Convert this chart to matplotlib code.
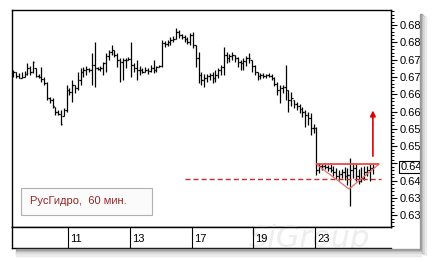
import matplotlib
matplotlib.use("Agg")
import matplotlib.pyplot as plt
from matplotlib.patches import Rectangle
from matplotlib.ticker import FixedLocator, MultipleLocator
import matplotlib.transforms as mtransforms

plt.rcParams['font.family'] = ['Liberation Sans', 'DejaVu Sans']

# ---------------- data (hourly OHLC) ----------------
high = [0.6720, 0.6714, 0.6711, 0.6714, 0.6717, 0.6740, 0.6732, 0.6746, 0.6726, 0.6708,
        0.6729, 0.6700, 0.6685, 0.6642, 0.6639, 0.6613, 0.6604, 0.6604, 0.6610, 0.6677,
        0.6668, 0.6691, 0.6677, 0.6714, 0.6726, 0.6729, 0.6732, 0.6726, 0.6769, 0.6801,
        0.6729, 0.6732, 0.6743, 0.6769, 0.6778, 0.6792, 0.6778, 0.6769, 0.6755, 0.6755,
        0.6755, 0.6758, 0.6801, 0.6740, 0.6749, 0.6732, 0.6726, 0.6729, 0.6726, 0.6734,
        0.6749, 0.6732, 0.6734, 0.6807, 0.6804, 0.6807, 0.6815, 0.6818, 0.6841, 0.6836,
        0.6824, 0.6821, 0.6815, 0.6827, 0.6830, 0.6792, 0.6772, 0.6714, 0.6708, 0.6708,
        0.6711, 0.6714, 0.6720, 0.6726, 0.6734, 0.6786, 0.6772, 0.6766, 0.6772, 0.6763,
        0.6758, 0.6749, 0.6755, 0.6760, 0.6769, 0.6749, 0.6734, 0.6714, 0.6711, 0.6711,
        0.6708, 0.6711, 0.6708, 0.6700, 0.6685, 0.6677, 0.6677, 0.6734, 0.6662, 0.6656,
        0.6633, 0.6628, 0.6622, 0.6613, 0.6604, 0.6599, 0.6596, 0.6564, 0.6555, 0.6451,
        0.6448, 0.6448, 0.6445, 0.6448, 0.6443, 0.6437, 0.6431, 0.6434, 0.6440, 0.6437,
        0.6466, 0.6451, 0.6448, 0.6434, 0.6440, 0.6443, 0.6443, 0.6448, 0.6448]
low = [0.6700, 0.6697, 0.6697, 0.6697, 0.6700, 0.6706, 0.6706, 0.6711, 0.6700, 0.6697,
       0.6685, 0.6677, 0.6633, 0.6625, 0.6610, 0.6590, 0.6590, 0.6561, 0.6587, 0.6599,
       0.6648, 0.6628, 0.6654, 0.6662, 0.6677, 0.6700, 0.6706, 0.6714, 0.6677, 0.6671,
       0.6720, 0.6717, 0.6706, 0.6714, 0.6749, 0.6763, 0.6758, 0.6729, 0.6685, 0.6691,
       0.6726, 0.6749, 0.6700, 0.6714, 0.6691, 0.6706, 0.6711, 0.6714, 0.6708, 0.6714,
       0.6711, 0.6714, 0.6729, 0.6729, 0.6786, 0.6789, 0.6792, 0.6801, 0.6810, 0.6812,
       0.6810, 0.6801, 0.6795, 0.6792, 0.6784, 0.6729, 0.6682, 0.6677, 0.6671, 0.6685,
       0.6691, 0.6682, 0.6685, 0.6697, 0.6706, 0.6706, 0.6740, 0.6743, 0.6749, 0.6743,
       0.6729, 0.6720, 0.6720, 0.6732, 0.6740, 0.6714, 0.6706, 0.6691, 0.6694, 0.6697,
       0.6697, 0.6700, 0.6691, 0.6674, 0.6648, 0.6625, 0.6654, 0.6633, 0.6599, 0.6616,
       0.6610, 0.6604, 0.6596, 0.6584, 0.6555, 0.6561, 0.6532, 0.6538, 0.6417, 0.6422,
       0.6431, 0.6434, 0.6428, 0.6425, 0.6414, 0.6405, 0.6402, 0.6408, 0.6402, 0.6388,
       0.6327, 0.6408, 0.6399, 0.6391, 0.6396, 0.6402, 0.6414, 0.6399, 0.6419]
open_ = [0.6717, 0.6714, 0.6703, 0.6697, 0.6700, 0.6708, 0.6726, 0.6714, 0.6726, 0.6703,
         0.6700, 0.6694, 0.6682, 0.6639, 0.6633, 0.6613, 0.6599, 0.6593, 0.6587, 0.6604,
         0.6662, 0.6656, 0.6677, 0.6668, 0.6691, 0.6714, 0.6720, 0.6723, 0.6720, 0.6734,
         0.6726, 0.6723, 0.6726, 0.6740, 0.6760, 0.6772, 0.6778, 0.6763, 0.6749, 0.6743,
         0.6749, 0.6749, 0.6752, 0.6734, 0.6726, 0.6720, 0.6720, 0.6714, 0.6720, 0.6717,
         0.6726, 0.6720, 0.6729, 0.6732, 0.6798, 0.6795, 0.6801, 0.6807, 0.6810, 0.6830,
         0.6821, 0.6815, 0.6810, 0.6801, 0.6821, 0.6792, 0.6755, 0.6706, 0.6691, 0.6697,
         0.6703, 0.6706, 0.6697, 0.6706, 0.6720, 0.6729, 0.6763, 0.6755, 0.6760, 0.6763,
         0.6755, 0.6743, 0.6740, 0.6746, 0.6755, 0.6749, 0.6732, 0.6714, 0.6703, 0.6706,
         0.6703, 0.6706, 0.6703, 0.6697, 0.6680, 0.6662, 0.6668, 0.6671, 0.6662, 0.6633,
         0.6633, 0.6622, 0.6616, 0.6607, 0.6599, 0.6590, 0.6581, 0.6552, 0.6552, 0.6431,
         0.6443, 0.6443, 0.6440, 0.6437, 0.6431, 0.6425, 0.6414, 0.6419, 0.6425, 0.6414,
         0.6417, 0.6431, 0.6437, 0.6414, 0.6399, 0.6408, 0.6425, 0.6431, 0.6437]
close = [0.6714, 0.6703, 0.6697, 0.6700, 0.6708, 0.6726, 0.6714, 0.6743, 0.6703, 0.6700,
         0.6694, 0.6682, 0.6639, 0.6633, 0.6616, 0.6599, 0.6593, 0.6564, 0.6604, 0.6662,
         0.6656, 0.6677, 0.6668, 0.6691, 0.6714, 0.6720, 0.6723, 0.6720, 0.6734, 0.6726,
         0.6723, 0.6726, 0.6740, 0.6760, 0.6772, 0.6778, 0.6763, 0.6749, 0.6743, 0.6749,
         0.6749, 0.6752, 0.6734, 0.6726, 0.6720, 0.6720, 0.6714, 0.6720, 0.6717, 0.6726,
         0.6720, 0.6729, 0.6732, 0.6798, 0.6795, 0.6801, 0.6807, 0.6810, 0.6830, 0.6821,
         0.6815, 0.6810, 0.6801, 0.6821, 0.6792, 0.6755, 0.6706, 0.6691, 0.6697, 0.6703,
         0.6706, 0.6697, 0.6706, 0.6720, 0.6729, 0.6763, 0.6755, 0.6760, 0.6763, 0.6755,
         0.6743, 0.6740, 0.6746, 0.6755, 0.6755, 0.6732, 0.6714, 0.6703, 0.6706, 0.6703,
         0.6706, 0.6703, 0.6697, 0.6680, 0.6662, 0.6668, 0.6671, 0.6662, 0.6633, 0.6639,
         0.6622, 0.6616, 0.6607, 0.6599, 0.6590, 0.6581, 0.6552, 0.6552, 0.6431, 0.6443,
         0.6443, 0.6440, 0.6437, 0.6431, 0.6425, 0.6414, 0.6419, 0.6425, 0.6414, 0.6417,
         0.6431, 0.6437, 0.6414, 0.6399, 0.6408, 0.6425, 0.6431, 0.6437, 0.6440]

day_labels = ['11', '13', '17', '19', '23']
day_start_bar = [20, 42, 64, 86, 108]

ytick_values = [0.685, 0.680, 0.675, 0.670, 0.665, 0.660, 0.655, 0.650, 0.645, 0.640, 0.635, 0.630]
ytick_labels = ['0.68', '0.68', '0.67', '0.67', '0.66', '0.66', '0.65', '0.65', '', '0.64', '0.63', '0.63']
last_price_label = '0.64'
last_price = 0.6440

neck_price = 0.6448
neck_bars = [107.9, 130.3]
support_price = 0.6405
support_bars = [61.2, 131.0]
apex_bar, apex_price = 119.6, 0.6376
arrow_bar, arrow_from, arrow_to = 128.1, 0.6471, 0.6603

legend_text = 'РусГидро,  60 мин.'
watermark = 'SiGroup'

# ---------------- figure ----------------
W, H = 432, 262
fig = plt.figure(figsize=(W / 100, H / 100), dpi=100)
fig.patch.set_facecolor('white')

# shadow of the chart panel
for k, col in enumerate(['#9a9a9a', '#b8b8b8', '#d4d4d4', '#eaeaea']):
    fig.patches.append(Rectangle(((420 + k * 1.5) / W, (H - 252 - k) / H), 1.6 / W, (252 - 14) / H,
                                 transform=fig.transFigure, color=col, zorder=0))
    fig.patches.append(Rectangle((16 / W, (H - 251 - k * 1.5) / H), (421 - 16) / W, 1.6 / H,
                                 transform=fig.transFigure, color=col, zorder=0))

ax = fig.add_axes([12 / W, (H - 227) / H, 379 / W, 217 / H])
axd = fig.add_axes([12 / W, (H - 248) / H, 379 / W, 21 / H])

n = len(close)
xl = (-0.46, 134.55)
ax.set_xlim(*xl)
ax.set_ylim(0.62662, 0.68934)

idx = list(range(n))
ax.vlines(idx, low, high, color='black', lw=0.9, zorder=3)
ax.hlines(open_, [i - 0.5 for i in idx], idx, color='black', lw=0.9, zorder=3)
ax.hlines(close, idx, [i + 0.5 for i in idx], color='black', lw=0.9, zorder=3)

# pattern annotations
ax.hlines(support_price, support_bars[0], support_bars[1], color='#d42a2a', lw=1.0,
          linestyles=[(0, (3.6, 2.2))], zorder=4)
ax.plot([neck_bars[0], apex_bar, neck_bars[1]], [neck_price, apex_price, neck_price],
        color='#e07070', lw=0.9, zorder=4)
ax.hlines(neck_price, neck_bars[0], neck_bars[1], color='#f04848', lw=1.3, zorder=4)
ax.annotate('', xy=(arrow_bar, arrow_to), xytext=(arrow_bar, arrow_from),
            arrowprops=dict(arrowstyle='-|>', color='#e00000', lw=1.2,
                            mutation_scale=8, shrinkA=0, shrinkB=0), zorder=5)

# axes styling
for s in ax.spines.values():
    s.set_color('black')
    s.set_linewidth(1.0)
ax.set_xticks([])
ax.yaxis.tick_right()
ax.yaxis.set_major_locator(FixedLocator(ytick_values))
ax.set_yticklabels(ytick_labels)
ax.yaxis.set_minor_locator(MultipleLocator(0.001))
ax.tick_params(axis='y', which='major', length=4, width=0.8, pad=2, labelsize=8, colors='black')
ax.tick_params(axis='y', which='minor', length=2, width=0.7)

# current price box
tr = mtransforms.blended_transform_factory(ax.transAxes, ax.transData)
ax.text(1.0245, last_price, last_price_label, transform=tr, fontsize=8, va='center', ha='left',
        bbox=dict(boxstyle='square,pad=0.12', fc='white', ec='black', lw=0.8), clip_on=False, zorder=6)

# legend box
ax.add_patch(Rectangle((9 / 379, 12 / 217), 131 / 379, 27 / 217, transform=ax.transAxes,
                       fc='#fbfbfb', ec='#b0b0b0', lw=0.8, zorder=5))
ax.text(18 / 379, 25.5 / 217, legend_text, transform=ax.transAxes, fontsize=8,
        color='#9a2424', va='center', ha='left', zorder=6)

# date axis
axd.set_xlim(*xl)
axd.set_ylim(0, 1)
axd.set_xticks([])
axd.set_yticks([])
axd.spines['right'].set_visible(False)
for s in ['top', 'bottom', 'left']:
    axd.spines[s].set_linewidth(1.0)
axd.text(0.785, 0.45, watermark, transform=axd.transAxes, fontsize=22,
         fontstyle='italic', color='#ededed', ha='center', va='center', zorder=0,
         family=['DejaVu Sans'])
for lab, b in zip(day_labels, day_start_bar):
    axd.axvline(b - 0.5, color='black', lw=0.8, zorder=2)
    axd.text(b + 0.3, 0.45, lab, fontsize=8, va='center', ha='left', zorder=3)

fig.savefig('out.png', dpi=100, facecolor='white')
